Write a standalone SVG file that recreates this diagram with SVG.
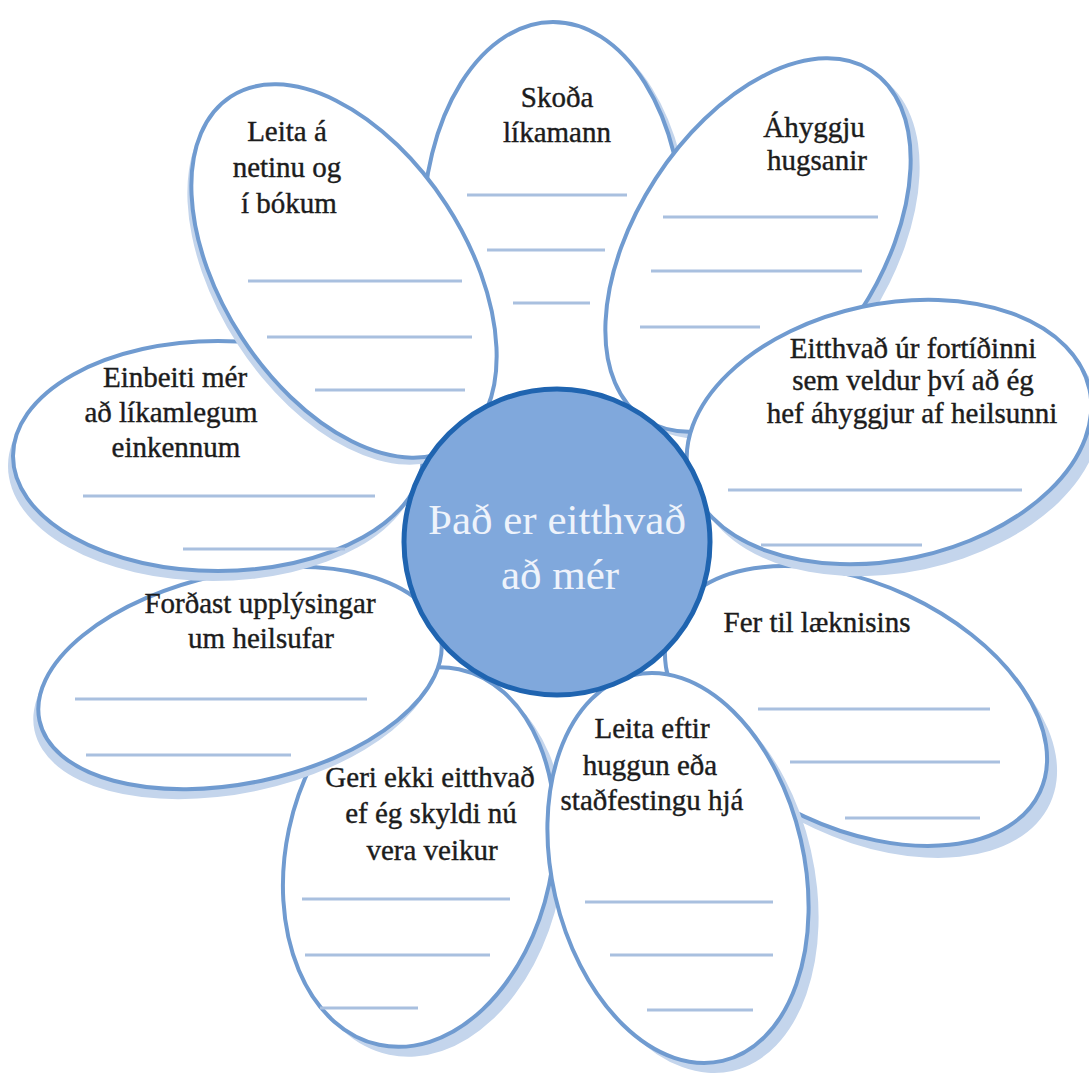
<svg xmlns="http://www.w3.org/2000/svg" width="1089" height="1078" viewBox="0 0 1089 1078" font-family="'Liberation Serif', 'Times New Roman', serif">
<style>
.shadow{fill:#c4d5ec;stroke:none}
.petal{fill:#ffffff;stroke:#709bd0;stroke-width:4}
.wl{stroke:#a9c0df;stroke-width:3;fill:none}
.t{font-family:'Liberation Serif','Times New Roman',serif;font-size:29px;fill:#1c1c1c;stroke:#1c1c1c;stroke-width:0.4;text-anchor:middle}
.ct{font-family:'Liberation Serif','Times New Roman',serif;font-size:43px;fill:#eef3fb;text-anchor:middle}
</style>
<rect width="1089" height="1078" fill="#ffffff"/>

<g id="petal-skoda">
<ellipse class="shadow" cx="553" cy="230" rx="130" ry="208" transform="translate(7,5)"/>
<ellipse class="petal" cx="553" cy="230" rx="130" ry="208"/>
<line class="wl" x1="467" y1="195" x2="627" y2="195"/>
<line class="wl" x1="487" y1="250" x2="605" y2="250"/>
<line class="wl" x1="513" y1="303" x2="590" y2="303"/>
<text class="t" x="557" y="107">Skoða</text>
<text class="t" x="557" y="142">líkamann</text>
</g>

<g id="petal-laeknir">
<ellipse class="shadow" cx="856" cy="706" rx="203" ry="122" transform="translate(10,12) rotate(25 856 706)"/>
<ellipse class="petal" cx="856" cy="706" rx="203" ry="122" transform="rotate(25 856 706)"/>
<line class="wl" x1="758" y1="709" x2="990" y2="709"/>
<line class="wl" x1="790" y1="762" x2="1000" y2="762"/>
<line class="wl" x1="845" y1="818" x2="980" y2="818"/>
<text class="t" x="817" y="632">Fer til læknisins</text>
</g>

<g id="petal-geri">
<ellipse class="shadow" cx="419" cy="857" rx="133" ry="192" transform="translate(10,10) rotate(12 419 857)"/>
<ellipse class="petal" cx="419" cy="857" rx="133" ry="192" transform="rotate(12 419 857)"/>
<line class="wl" x1="302" y1="899" x2="510" y2="899"/>
<line class="wl" x1="305" y1="955" x2="490" y2="955"/>
<line class="wl" x1="320" y1="1008" x2="418" y2="1008"/>
<text class="t" x="430" y="787">Geri ekki eitthvað</text>
<text class="t" x="431" y="823">ef ég skyldi nú</text>
<text class="t" x="432" y="860">vera veikur</text>
</g>

<g id="petal-fordast">
<ellipse class="shadow" cx="240" cy="678" rx="205" ry="105" transform="translate(-5,10) rotate(-12 240 678)"/>
<ellipse class="petal" cx="240" cy="678" rx="205" ry="105" transform="rotate(-12 240 678)"/>
<line class="wl" x1="75" y1="699" x2="367" y2="699"/>
<line class="wl" x1="86" y1="755" x2="291" y2="755"/>
<text class="t" x="260" y="613">Forðast upplýsingar</text>
<text class="t" x="261" y="648">um heilsufar</text>
</g>

<g id="petal-einbeiti">
<ellipse class="shadow" cx="218" cy="456" rx="205" ry="115" transform="translate(-5,10)"/>
<ellipse class="petal" cx="218" cy="456" rx="205" ry="115"/>
<line class="wl" x1="83" y1="496" x2="375" y2="496"/>
<line class="wl" x1="183" y1="549" x2="345" y2="549"/>
<text class="t" x="175" y="387">Einbeiti mér</text>
<text class="t" x="171" y="422">að líkamlegum</text>
<text class="t" x="176" y="457">einkennum</text>
</g>

<g id="petal-leita-netinu">
<ellipse class="shadow" cx="344" cy="271" rx="208" ry="122" transform="translate(-4,7) rotate(57 344 271)"/>
<ellipse class="petal" cx="344" cy="271" rx="208" ry="122" transform="rotate(57 344 271)"/>
<line class="wl" x1="248" y1="281" x2="462" y2="281"/>
<line class="wl" x1="267" y1="337" x2="472" y2="337"/>
<line class="wl" x1="315" y1="390" x2="465" y2="390"/>
<text class="t" x="287" y="141">Leita á</text>
<text class="t" x="287" y="177">netinu og</text>
<text class="t" x="289" y="213">í bókum</text>
</g>

<g id="petal-ahyggju">
<ellipse class="shadow" cx="758" cy="245" rx="208" ry="122" transform="translate(9,7) rotate(-57 758 245)"/>
<ellipse class="petal" cx="758" cy="245" rx="208" ry="122" transform="rotate(-57 758 245)"/>
<line class="wl" x1="663" y1="217" x2="878" y2="217"/>
<line class="wl" x1="651" y1="271" x2="862" y2="271"/>
<line class="wl" x1="640" y1="327" x2="760" y2="327"/>
<text class="t" x="814" y="137">Áhyggju</text>
<text class="t" x="817" y="170">hugsanir</text>
</g>

<g id="petal-huggun">
<ellipse class="shadow" cx="678" cy="868" rx="126" ry="198" transform="translate(10,10) rotate(-13 678 868)"/>
<ellipse class="petal" cx="678" cy="868" rx="126" ry="198" transform="rotate(-13 678 868)"/>
<line class="wl" x1="585" y1="902" x2="773" y2="902"/>
<line class="wl" x1="610" y1="955" x2="773" y2="955"/>
<line class="wl" x1="647" y1="1010" x2="753" y2="1010"/>
<text class="t" x="652" y="738">Leita eftir</text>
<text class="t" x="650" y="775">huggun eða</text>
<text class="t" x="652" y="810">staðfestingu hjá</text>
</g>

<g id="petal-fortid">
<ellipse class="shadow" cx="889" cy="432" rx="205" ry="128" transform="translate(9,12) rotate(-12 889 432)"/>
<ellipse class="petal" cx="889" cy="432" rx="205" ry="128" transform="rotate(-12 889 432)"/>
<line class="wl" x1="728" y1="490" x2="1022" y2="490"/>
<line class="wl" x1="761" y1="545" x2="922" y2="545"/>
<text class="t" x="913" y="358">Eitthvað úr fortíðinni</text>
<text class="t" x="913" y="390">sem veldur því að ég</text>
<text class="t" x="912" y="423">hef áhyggjur af heilsunni</text>
</g>

<g id="center">
<circle cx="557" cy="542" r="153" fill="#80a8dc" stroke="#1f64b0" stroke-width="5"/>
<text class="ct" x="557" y="534">Það er eitthvað</text>
<text class="ct" x="560" y="589">að mér</text>
</g>
</svg>
